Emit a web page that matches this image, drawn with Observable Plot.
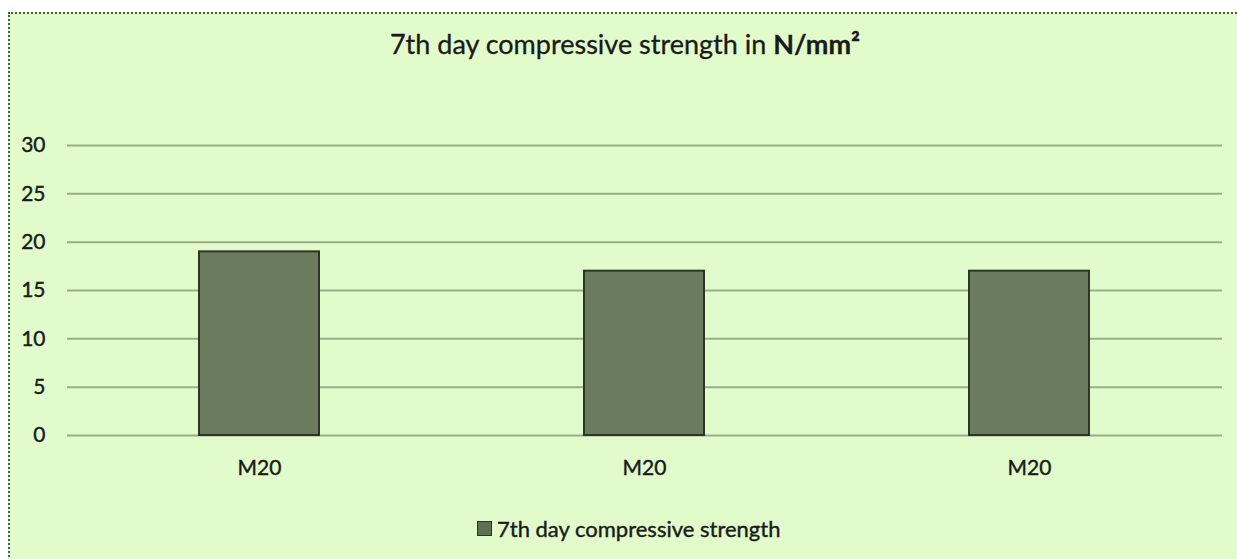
<!DOCTYPE html>
<html>
<head>
<meta charset="utf-8">
<script src="https://cdn.jsdelivr.net/npm/d3@7"></script>
<script src="https://cdn.jsdelivr.net/npm/@observablehq/plot@0.6"></script>
<style>
  html, body { margin: 0; padding: 0; background: #ffffff; width: 1237px; height: 559px; overflow: hidden; }
  #frame {
    position: absolute; left: 8px; top: 12px; width: 1240px; height: 560px;
    background: #e1fbcb; border-top: 2px dotted #4f5a48; border-left: 2px dotted #4f5a48;
    box-sizing: border-box;
  }
  #title {
    position: absolute; left: 0; top: 27px; width: 1250px; text-align: center;
    font-family: Lato, sans-serif; font-size: 27px; color: #1a1a1a;
    -webkit-text-stroke: 0.3px #1a1a1a;
  }
  #chart { position: absolute; left: 0; top: 100px; }
  #chart text { stroke: #1a1a1a; stroke-width: 0.4px; }
  #legend {
    position: absolute; left: 477px; top: 515px; font-family: Lato, sans-serif;
    font-size: 22px; color: #1a1a1a; display: flex; align-items: center; gap: 5px;
    -webkit-text-stroke: 0.4px #1a1a1a;
  }
  #legend .sw { width: 13px; height: 13px; background: #5f6e54; border: 1px solid #2c3527; }
</style>
</head>
<body>
<div id="frame"></div>
<div id="title">7th day compressive strength in <b>N/mm²</b></div>
<div id="chart"></div>
<div id="legend"><span class="sw"></span><span id="legendLabel"></span></div>
<script>
const categories = ["M20", "M20", "M20"];
const values = [19, 17, 17];
const yTicks = [0, 5, 10, 15, 20, 25, 30];
const seriesName = "7th day compressive strength";

const data = categories.map((c, i) => ({idx: i, cat: c, value: values[i]}));
document.getElementById("legendLabel").textContent = seriesName;

const plot = Plot.plot({
  width: 1237,
  height: 400,
  marginLeft: 67,
  marginRight: 15,
  marginTop: 45,
  marginBottom: 65,
  style: { background: "transparent", fontFamily: "Lato, sans-serif", fontSize: "21px", color: "#1a1a1a" },
  x: { domain: data.map(d => d.idx), paddingInner: 0.688, paddingOuter: 0.344, label: null,
       tickFormat: i => categories[i], tickSize: 0, tickPadding: 25 },
  y: { domain: [0, 30], ticks: yTicks, label: null, tickSize: 0, tickPadding: 22 },
  marks: [
    Plot.ruleY(yTicks, { stroke: "#99ad89", strokeWidth: 2 }),
    Plot.barY(data, { x: "idx", y: "value", fill: "#6b7b5e", stroke: "#2c3527", strokeWidth: 2 })
  ]
});
document.getElementById("chart").appendChild(plot);
</script>
</body>
</html>
